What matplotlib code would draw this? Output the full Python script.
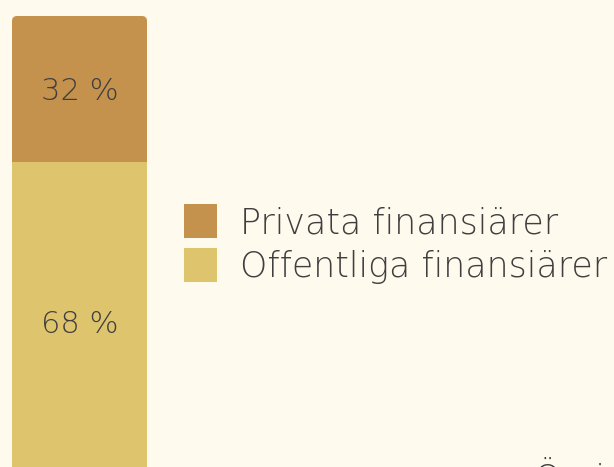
import matplotlib
matplotlib.use("Agg")
import matplotlib.pyplot as plt
from matplotlib.patches import FancyBboxPatch, Patch
from matplotlib.transforms import offset_copy

categories = ["Offentliga finansiärer", "Privata finansiärer"]
values = [68, 32]
colors = ["#dfc46e", "#c4924c"]
value_labels = ["68 %", "32 %"]
extra_label = "Övrigt"

BG = "#fefaee"
TXT = "#3f3f3f"
FONT = ["DejaVu Sans"]

W, H = 614, 467
fig = plt.figure(figsize=(W / 100, H / 100), dpi=100, facecolor=BG)

top_px, bot_px = 16, 472
ax = fig.add_axes([0, (H - bot_px) / H, 1, (bot_px - top_px) / H])
ax.set_facecolor(BG)
ax.set_ylim(0, 100)
bar_w_px = 135
ax.set_xlim(-12 / bar_w_px, (W - 12) / bar_w_px)
ax.axis("off")

bottoms = [0, values[0]]
bars = []
for v, b, c in zip(values, bottoms, colors):
    bars.append(ax.bar(0, v, bottom=b, width=1, align="edge", color=c, linewidth=0)[0])

top_bar = bars[1]
x0, y0 = top_bar.get_x(), top_bar.get_y()
w, h = top_bar.get_width(), top_bar.get_height()
top_bar.set_visible(False)
px_x = 1 / bar_w_px
px_y = 100 / (bot_px - top_px)
r = 5
ax.add_patch(FancyBboxPatch((x0, y0 - 10), w, h + 10,
                            boxstyle=f"round,pad=0,rounding_size={r*px_x}",
                            mutation_aspect=px_y / px_x,
                            facecolor=colors[1], linewidth=0, zorder=1))
bars[0].set_zorder(2)

shifts = [-8, -3]  # pixel shifts (down) of labels
for v, b, lab, s in zip(values, bottoms, value_labels, shifts):
    tr = offset_copy(ax.transData, fig=fig, x=0, y=s, units="dots")
    ax.text(0.5, b + v / 2, lab, ha="center", va="center", fontsize=22,
            color=TXT, family=FONT, fontweight="light", zorder=3, transform=tr)

handles = [Patch(facecolor=colors[1], label=categories[1]),
           Patch(facecolor=colors[0], label=categories[0])]
fig.legend(handles=handles, loc="center left", bbox_to_anchor=(184 / W, 1 - 244 / H),
           frameon=False, prop={"family": FONT, "size": 25, "weight": "light"},
           labelcolor=TXT, handlelength=0.95, handleheight=1.13, handletextpad=0.66,
           labelspacing=0.23, borderpad=0, borderaxespad=0)

fig.text(533 / W, 1 - 457 / H, extra_label, ha="left", va="top", fontsize=25,
         color=TXT, family=FONT, fontweight="light")

fig.savefig("out.png", dpi=100, facecolor=BG)
